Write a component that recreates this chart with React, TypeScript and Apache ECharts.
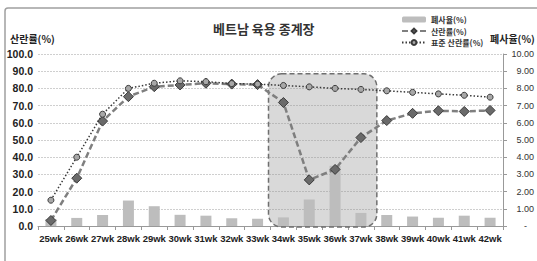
import React, { useEffect, useRef } from "react";
import * as echarts from "echarts";

const categories = ["25wk", "26wk", "27wk", "28wk", "29wk", "30wk", "31wk", "32wk", "33wk", "34wk", "35wk", "36wk", "37wk", "38wk", "39wk", "40wk", "41wk", "42wk"];
const layingRate = [3.2, 27.8, 61, 75.2, 81, 82, 83, 82.5, 82.2, 71.8, 26.8, 32.9, 51.4, 61.3, 65.5, 67, 66.6, 67.2];
const standardRate = [15, 40, 65, 80, 83, 84.4, 83.9, 82.8, 82.5, 81.7, 80.9, 80, 79.4, 78.6, 77.7, 76.8, 76, 74.9];
const mortality = [0.41, 0.47, 0.64, 1.48, 1.15, 0.65, 0.6, 0.45, 0.42, 0.5, 1.54, 3.5, 0.76, 0.64, 0.55, 0.48, 0.6, 0.48];
const leftTicks = { min: 0, max: 100, interval: 10 };
const rightTicks = { min: 0, max: 10, interval: 1 };
const highlightStart = "34wk";
const highlightEnd = "37wk";
const highlightTop = 88.5;

const FONT = "'Liberation Sans', 'Noto Sans CJK KR', sans-serif";
const KFONT = "'Noto Sans CJK KR', 'Liberation Sans', sans-serif";

export default function App() {
  const ref = useRef<HTMLDivElement>(null);
  useEffect(() => {
    document.body.style.margin = "0";
    const chart = echarts.init(ref.current!, undefined, { renderer: "svg" });
    chart.setOption({
      animation: false,
      backgroundColor: "#fff",
      grid: { left: 38, right: 34, top: 54, bottom: 35 },
      legend: {
        orient: "vertical",
        left: 401,
        top: 15,
        itemWidth: 24,
        itemHeight: 6,
        itemGap: 2.5,
        padding: 0,
        textStyle: { fontFamily: KFONT, fontSize: 8, lineHeight: 9, fontWeight: "bold", color: "#333" },
        data: ["폐사율(%)", "산란률(%)", "표준 산란률(%)"],
      },
      xAxis: {
        type: "category",
        data: categories,
        axisLine: { lineStyle: { color: "#999" } },
        axisTick: { show: true, length: 4, lineStyle: { color: "#999" } },
        axisLabel: { fontFamily: FONT, fontSize: 9.5, fontWeight: "bold", color: "#222", margin: 8, interval: 0 },
      },
      yAxis: [
        {
          type: "value",
          ...leftTicks,
          axisLine: { show: false },
          axisTick: { show: false },
          splitLine: { lineStyle: { color: "#cfcfcf", width: 1, type: [2, 1] } },
          axisLabel: {
            fontFamily: FONT, fontSize: 10.5, fontWeight: "bold", color: "#222", margin: 5,
            formatter: (v: number) => v.toFixed(1),
          },
        },
        {
          type: "value",
          ...rightTicks,
          position: "right",
          axisLine: { show: true, lineStyle: { color: "#999" } },
          axisTick: { show: true, length: 4, lineStyle: { color: "#999" } },
          splitLine: { show: false },
          axisLabel: {
            fontFamily: FONT, fontSize: 9, color: "#333", margin: 31, align: "right",
            formatter: (v: number) => (v === 0 ? "{d|-}" : v.toFixed(2)),
            rich: { d: { padding: [0, 7, 0, 0], fontSize: 9, fontFamily: FONT, color: "#333" } },
          },
        },
      ],
      series: [
        {
          name: "폐사율(%)",
          type: "bar",
          yAxisIndex: 1,
          data: mortality,
          barWidth: 11,
          itemStyle: { color: "#bdbdbd" },
          z: 2,
        },
        {
          name: "산란률(%)",
          type: "line",
          data: layingRate,
          symbol: "diamond",
          symbolSize: 10,
          lineStyle: { color: "#7f7f7f", width: 2.5, type: [6, 3] },
          itemStyle: { color: "#6a6a6a", borderColor: "#3a3a3a", borderWidth: 1 },
          z: 4,
        },
        {
          name: "표준 산란률(%)",
          type: "line",
          data: standardRate,
          symbol: "circle",
          symbolSize: 6,
          lineStyle: { color: "#3a3a3a", width: 1.5, type: [1.5, 2] },
          itemStyle: { color: "#a8a8a8", borderColor: "#3a3a3a", borderWidth: 1 },
          z: 5,
        },
      ],
      graphic: [
        {
          id: "border", type: "rect", z: -10, silent: true,
          shape: { x: 5, y: 8, width: 600, height: 300, r: 3 },
          style: { fill: "none", stroke: "#a0a0a0", lineWidth: 1.5 },
        },
        {
          id: "title", type: "text", left: 213, top: 22,
          style: { text: "베트남 육용 종계장", font: `bold 13px ${KFONT}`, fill: "#333" },
        },
        {
          id: "lname", type: "text", left: 10, top: 33,
          style: { text: "산란률(%)", font: `bold 10px ${KFONT}`, fill: "#222" },
        },
        {
          id: "rname", type: "text", left: 490, top: 33,
          style: { text: "폐사율(%)", font: `bold 10px ${KFONT}`, fill: "#222" },
        },
      ],
    });

    const xs = chart.convertToPixel({ xAxisIndex: 0 }, highlightStart) as unknown as number;
    const xe = chart.convertToPixel({ xAxisIndex: 0 }, highlightEnd) as unknown as number;
    const xn = chart.convertToPixel({ xAxisIndex: 0 }, categories[categories.indexOf(highlightStart) + 1]) as unknown as number;
    const band = xn - xs;
    const yt = chart.convertToPixel({ yAxisIndex: 0 }, highlightTop) as unknown as number;
    const yb = chart.convertToPixel({ yAxisIndex: 0 }, 0) as unknown as number;
    const x0 = xs - band / 2 - 2;
    const x1 = xe + band / 2 + 3;
    chart.setOption({
      graphic: [
        {
          id: "box", type: "rect", z: 1, silent: true,
          shape: { x: x0, y: yt, width: x1 - x0, height: yb + 1 - yt, r: 13 },
          style: { fill: "rgba(140,140,140,0.33)", stroke: "#6f6f6f", lineWidth: 1.5, lineDash: [5, 3] },
        },
      ],
    });

    return () => chart.dispose();
  }, []);
  return <div ref={ref} style={{ width: 537, height: 261 }} />;
}
